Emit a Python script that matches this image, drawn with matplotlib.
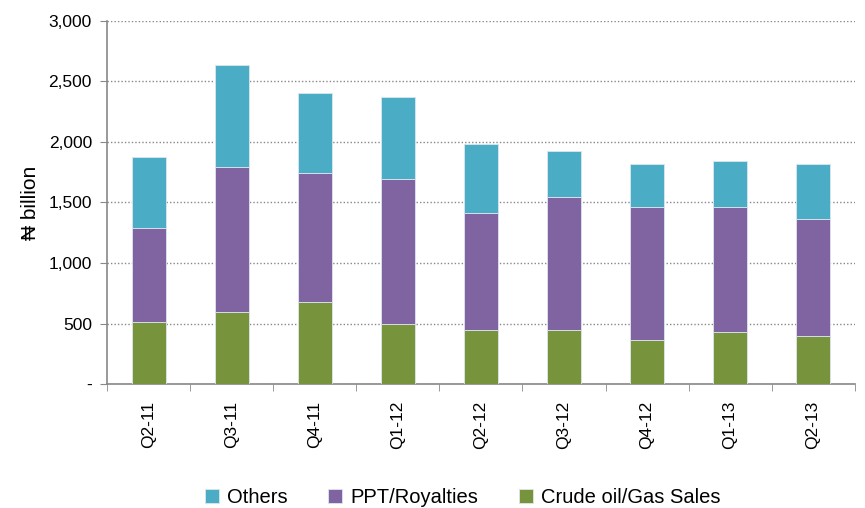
import matplotlib
matplotlib.use("Agg")
import matplotlib.pyplot as plt
import numpy as np

categories = ["Q2-11", "Q3-11", "Q4-11", "Q1-12", "Q2-12", "Q3-12", "Q4-12", "Q1-13", "Q2-13"]
crude = [515, 595, 678, 496, 446, 446, 366, 432, 397]
ppt = [774, 1201, 1068, 1201, 970, 1102, 1099, 1033, 969]
others = [590, 840, 661, 675, 565, 380, 351, 380, 450]

plt.rcParams['font.family'] = ['Liberation Sans', 'DejaVu Sans']

fig = plt.figure(figsize=(8.65, 5.08), dpi=100)
ax = fig.add_axes([0.124, 0.244, 0.864, 0.715])

x = np.arange(len(categories))
w = 0.41
c_crude = "#77933C"
c_ppt = "#8064A2"
c_oth = "#4BACC6"
ec = "#dde6ee"
crude_a = np.array(crude)
ppt_a = np.array(ppt)
oth_a = np.array(others)
ax.bar(x, crude_a, w, color=c_crude, edgecolor=ec, linewidth=0.6, zorder=3, label="Crude oil/Gas Sales")
ax.bar(x, ppt_a, w, bottom=crude_a, color=c_ppt, edgecolor=ec, linewidth=0.6, zorder=3, label="PPT/Royalties")
ax.bar(x, oth_a, w, bottom=crude_a + ppt_a, color=c_oth, edgecolor=ec, linewidth=0.6, zorder=3, label="Others")

ax.set_xlim(-0.5, len(categories) - 0.5)
ax.set_ylim(0, 3000)
ax.set_yticks(np.arange(0, 3001, 500))
ax.set_yticklabels(["-" if v == 0 else f"{v:,}" for v in range(0, 3001, 500)], fontsize=12.5)
ax.yaxis.grid(True, linestyle=(0, (1, 1.5)), color="#888888", linewidth=1.0, zorder=0)

ax.set_xticks(x)
ax.set_xticklabels(categories, rotation=90, fontsize=12.5)
ax.set_xticks(np.arange(-0.5, len(categories)), minor=True)
ax.tick_params(axis='x', which='major', length=0, pad=12)
ax.tick_params(axis='x', which='minor', length=5, color="#888888", direction='out')
ax.tick_params(axis='y', which='major', length=5, color="#888888", direction='out', pad=6)

for s in ["top", "right"]:
    ax.spines[s].set_visible(False)
for s in ["left", "bottom"]:
    ax.spines[s].set_color("#888888")
    ax.spines[s].set_linewidth(1.2)

ax.set_ylabel("₦ billion", fontsize=15, labelpad=6)

handles, labels = ax.get_legend_handles_labels()
order = [2, 1, 0]
leg = fig.legend([handles[i] for i in order], [labels[i] for i in order],
                 loc="center", bbox_to_anchor=(0.535, 0.02), ncol=3, frameon=False,
                 fontsize=14.5, handlelength=0.7, handleheight=0.7, handletextpad=0.4,
                 columnspacing=2.0)

fig.savefig("out.png", dpi=100)
